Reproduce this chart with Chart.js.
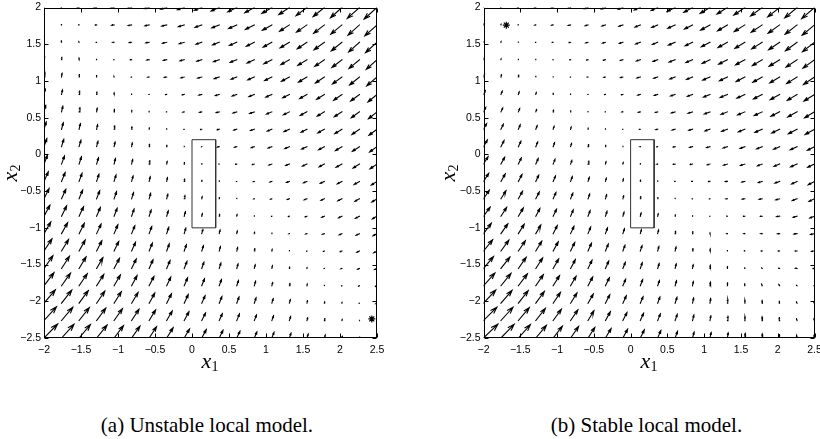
<!DOCTYPE html>
<html>
<head>
<meta charset="utf-8">
<script src="https://cdn.jsdelivr.net/npm/chart.js@4.4.1/dist/chart.umd.min.js"></script>
<style>
  body { margin: 0; width: 820px; height: 439px; overflow: hidden; background: #fff; position: relative; }
  .plot { position: absolute; top: 0; width: 410px; height: 380px; }
  .xlab, .ylab { position: absolute; width: 60px; height: 22px; text-align: center; color: #000;
                 font: italic 22px "Liberation Serif", serif; line-height: 22px; }
  .xlab sub, .ylab sub { font-style: normal; font-size: 14px; vertical-align: -3px; line-height: 0; }
  .ylab { transform: rotate(-90deg); }
  .cap { position: absolute; top: 415px; width: 320px; text-align: center; color: #000;
         font-family: "Liberation Serif", "Times New Roman", serif; font-size: 21px; line-height: 21px; }
</style>
</head>
<body>
<div class="plot" style="left:0"><canvas id="chartA"></canvas></div>
<div class="plot" style="left:440px"><canvas id="chartB"></canvas></div>
<div class="xlab" style="left:180px;top:350px">x<sub>1</sub></div>
<div class="xlab" style="left:619px;top:350px">x<sub>1</sub></div>
<div class="ylab" style="left:-20px;top:162px">x<sub>2</sub></div>
<div class="ylab" style="left:417.5px;top:162px">x<sub>2</sub></div>
<div class="cap" style="left:47px">(a) Unstable local model.</div>
<div class="cap" style="left:486.5px">(b) Stable local model.</div>
<script>
// arrow tails: columns left to right, rows top to bottom
const gridX = [-2, -1.763, -1.526, -1.289, -1.053, -0.816, -0.579, -0.342, -0.105, 0.132,
               0.368, 0.605, 0.842, 1.079, 1.316, 1.553, 1.789, 2.026, 2.263, 2.5];
const gridY = [2, 1.763, 1.526, 1.289, 1.053, 0.816, 0.579, 0.342, 0.105, -0.132,
               -0.368, -0.605, -0.842, -1.079, -1.316, -1.553, -1.789, -2.026, -2.263, -2.5];
const xTicks = [-2, -1.5, -1, -0.5, 0, 0.5, 1, 1.5, 2, 2.5];
const yTicks = [-2.5, -2, -1.5, -1, -0.5, 0, 0.5, 1, 1.5, 2];

// boxed region and equilibrium markers
const rectX = [0, 0.32, 0.32, 0, 0];
const rectY = [0.2, 0.2, -1, -1, 0.2];
const starA = [2.43, -2.24];
const starB = [-1.69, 1.76];

// (a) unstable local model: arrow length and direction (deg) per grid cell
const magA = [
  [0.5,0.5,1.4,2.3,3.3,4.2,5.1,6,7,7.9,8.8,9.8,10.7,11.6,12.6,13.5,14.4,15.3,16.3,17.2],
  [1.5,0.5,0.5,1.4,2.3,3.3,4.2,5.1,6,7,7.9,8.8,9.8,10.7,11.6,12.6,13.5,14.4,15.3,16.3],
  [2.5,1.5,0.5,0.5,1.4,2.3,3.3,4.2,5.1,6,7,7.9,8.8,9.8,10.7,11.6,12.6,13.5,14.4,15.3],
  [3.5,2.5,1.5,0.5,0.5,1.4,2.3,3.3,4.2,5.1,6,7,7.9,8.8,9.8,10.7,11.6,12.6,13.5,14.4],
  [5,3.5,2.5,1.5,0.5,0.5,1.4,2.3,3.3,4.2,5.1,6,7,7.9,8.8,9.8,10.7,11.6,12.6,13.5],
  [5.5,4.5,3.5,2.5,1.5,0.5,0.4,1.3,2.2,3,3.9,4.8,5.7,6.5,7.4,8.3,9.1,10,10.9,11.7],
  [6.5,5.5,4.5,3.5,2.5,1.5,0.5,0.4,1.3,2.2,3,3.9,4.8,5.7,6.5,7.4,8.3,9.1,10,10.9],
  [7.5,6.5,5.5,4.5,3.5,2.5,1.5,0.5,0.4,1.3,2.2,3,3.9,4.8,5.7,6.5,7.4,8.3,9.1,10],
  [8.5,7.5,6.5,5.5,4.5,3.5,2.5,1.5,0.5,0.4,1.8,2.2,3,3.9,4.8,5.7,6.5,7.4,8.3,9.1],
  [9.5,8.5,7.5,6.5,5.5,4.5,3.5,2.5,1.5,0.5,0.4,1.3,2.2,3,3.9,4.8,5.7,6.5,7.4,8.3],
  [10.5,9.5,8.5,7.5,6.5,5.5,4.5,3.5,2.5,1.2,0.5,0.4,1.2,2,2.8,3.6,4.4,5.2,6,6.8],
  [11.5,10.5,9.5,8.5,7.5,6.5,5.5,4.5,3.5,2,1.2,0.5,0.4,1.2,2,2.8,3.6,4.4,5.2,6],
  [12.5,11.5,10.5,9.5,8.5,7.5,6.5,5.5,4.5,2.5,2,1.5,0.5,0.4,1.2,2,2.8,3.6,4.4,5.2],
  [13.5,12.5,11.5,10.5,9.5,8.5,7.5,6.5,5.5,4.5,3.5,2.5,1.5,0.5,0.4,1.2,2,2.8,3.6,4.4],
  [14.5,13.5,12.5,11.5,10.5,9.5,8.5,7.5,6.5,5.5,4.5,3.5,2.5,1.5,0.5,0.4,1.2,2,2.8,3.6],
  [15.5,14.5,13.5,12.5,11.5,10.5,9.5,8.5,7.5,6.5,5.5,4.5,3.5,2.5,1.5,0.5,0.4,1.1,1.9,2.6],
  [16.5,15.5,14.5,13.5,12.5,11.5,10.5,9.5,8.5,7.5,6.5,5.5,4.5,3.5,2.5,1.5,0.5,0.4,1.1,1.9],
  [17.5,16.5,15.5,14.5,13.5,12.5,11.5,10.5,9.5,8,7,6.5,5.5,4.5,3.5,2.5,1.5,0.5,0.4,1.1],
  [18.5,17.5,16.5,15.5,14.5,13.5,12.5,11,10,8.5,7.5,7,6,5,4,3,2,1,0.3,0.3],
  [19.5,18.5,17.5,16.5,15.5,14.5,13.5,12,10.5,9.5,8.5,7.5,6.5,6,5,4,3,2,1,0.5]
];
const angA = [
  [90,180,183,185,188,191,193,196,198,201,204,206,209,211,214,217,219,222,222,222],
  [95,110,181,184,187,189,192,194,197,200,202,205,207,210,213,215,218,220,222,222],
  [84,95,110,183,185,188,190,193,196,198,201,203,206,209,211,214,216,219,222,222],
  [82,84,92,105,184,186,189,192,194,197,199,202,205,207,210,212,215,218,220,222],
  [80,82,83,90,100,185,188,190,193,195,198,201,203,206,208,211,214,216,219,221],
  [78,79,81,83,88,95,186,189,191,194,197,199,202,204,207,210,212,215,217,220],
  [75,77,79,81,82,84,90,187,190,193,195,198,200,203,206,208,211,213,216,219],
  [73,75,77,78,80,82,84,88,189,191,194,196,199,202,204,207,209,212,215,217],
  [71,73,74,76,78,80,81,83,85,190,192,195,198,200,203,205,208,211,213,216],
  [69,70,72,74,76,77,79,81,83,84,191,194,196,199,201,204,207,209,212,214],
  [66,68,70,72,73,75,77,79,80,82,83,192,195,197,200,203,205,208,210,213],
  [64,66,68,69,71,73,75,76,78,80,82,83,193,196,199,201,204,206,209,212],
  [62,64,65,67,69,71,72,74,76,78,79,81,82,195,197,200,202,205,208,210],
  [60,61,63,65,67,68,70,72,74,75,77,79,80,80,196,198,201,204,206,209],
  [57,59,61,63,64,66,68,70,71,73,75,77,78,80,80,197,200,202,205,207],
  [55,57,59,60,62,64,66,67,69,71,73,74,76,78,80,80,198,201,203,206],
  [53,55,56,58,60,62,63,65,67,69,70,72,74,76,77,79,80,199,202,205],
  [50,52,54,56,58,59,61,63,65,66,68,70,72,73,75,77,79,80,200,203],
  [48,50,52,54,55,57,59,60,62,64,66,68,69,71,73,75,76,78,80,200],
  [46,48,50,51,53,55,57,58,60,62,64,65,67,69,71,72,74,76,78,80]
];

// (b) stable local model
const magB = [
  [0.4,0.3,1,1.6,2.3,2.9,3.6,4.2,4.9,6.4,7.1,8.9,9.8,11.5,12.4,13.3,14.3,15.2,16.1,17],
  [1.1,0.4,0.3,1,1.6,2.3,2.9,3.6,4.2,5.6,6.4,8.1,8.9,10.6,11.5,12.4,13.3,14.3,15.2,16.1],
  [0.6,0.5,0.3,0.3,1,1.6,2.3,2.9,3.6,4.9,5.6,7.2,8.1,9.7,10.6,11.5,12.4,13.3,14.3,15.2],
  [1.5,0.7,0.5,0.3,0.3,1,1.6,2.3,2.9,4.1,4.9,6.4,7.2,8.7,9.7,10.6,11.5,12.4,13.3,14.3],
  [3,2.5,2,0.7,0.3,0.3,1,1.6,2.3,3.4,4.1,5.5,6.4,7.8,8.7,9.7,10.6,11.5,12.4,13.3],
  [4.1,3.4,2.6,1.9,1.1,0.4,0.3,1,1.6,2.6,3.4,4.7,5.5,6.9,7.8,8.7,9.7,10.6,11.5,12.4],
  [4.9,4.1,3.4,2.6,1.9,1.1,0.4,0.3,1,1.9,2.6,3.8,4.7,6,6.9,7.8,8.7,9.7,10.6,11.5],
  [6.4,5.5,4.7,3.8,3,2.1,1.3,0.4,0.3,1.1,1.9,3,3.8,5.1,6,6.9,7.8,8.7,9.7,10.6],
  [7.7,6.8,5.9,5,4.1,3.2,2.3,1.4,0.5,0.4,1.1,2.1,3,3.5,4.5,5,6,6.5,7.5,8],
  [8.6,7.7,6.8,5.9,5,4.1,3.2,2.3,1.4,0.5,0.8,2,2.5,3,4,4.5,5,6,7,7.5],
  [9.5,8.6,7.7,6.8,5.9,5,4.1,3.2,2.3,1.4,0.5,0.5,1,1.5,2,3,4,5,6,7],
  [10.4,9.5,8.6,7.7,6.8,5.9,5,4.1,3.2,2.3,1.4,0.5,0.4,0.8,1.5,2.5,3,4,5,6],
  [11.3,10.4,9.5,8.6,7.7,6.8,5.9,5,4.1,3.2,2.3,1.4,0.5,0.4,0.8,1.5,2,3,4,5],
  [13,12,11,10,9,8,7,6,5,4,3.5,2.5,2,0.5,0.5,1,1.5,2,3,4],
  [14.5,13.5,12.5,11.5,10.5,9.5,8.5,7.5,6,5.5,4.5,4,2.5,2,0.5,0.8,1,1.5,2,3],
  [15.5,14.5,13.5,12.5,11,10,9,8,6.5,6,5,4.5,3.5,3,2,0.7,0.8,1,1.5,1.5],
  [17,16,15,13.5,12,11,10,9,7,6.5,5.5,5,4,3.5,3,2,1.5,1.2,0.8,0.5],
  [18,17,16,14.5,13,12,10.5,9.5,8,7,6.5,6,5,4.5,4,3,2.5,2,1.5,1],
  [19,18,17,15.5,14,13,11.5,10,9,8,7,6.5,5.5,5,4.5,4,3.5,3,2,1.5],
  [20,19,18,16.5,15,14,12.5,11,10,9,8,7,6,5.5,5,4.5,4,3.5,2.5,2]
];
const angB = [
  [85,189,191,193,194,196,198,200,202,203,205,207,209,211,212,214,216,218,220,221],
  [80,80,189,191,193,194,196,198,200,202,203,205,207,209,211,212,214,216,218,220],
  [75,80,90,189,191,193,194,196,198,200,202,203,205,207,209,211,212,214,216,218],
  [75,80,85,90,189,191,193,194,196,198,200,202,203,205,207,209,211,212,214,216],
  [70,78,80,85,90,185,188,192,194,196,198,200,202,203,205,207,209,211,212,214],
  [64,67,72,78,82,88,185,188,192,194,196,198,200,202,203,205,207,209,211,212],
  [63,65,68,72,78,82,85,185,188,192,194,196,198,200,202,203,205,207,209,211],
  [61,64,67,69,72,74,80,85,185,189,192,194,196,198,200,202,203,205,207,209],
  [60,63,65,68,70,73,75,78,80,189,191,193,194,196,198,200,202,203,205,207],
  [58,61,64,66,69,71,74,76,79,82,189,190,192,194,196,198,200,202,203,205],
  [57,60,62,65,67,70,72,75,78,80,82,180,180,183,186,192,197,200,205,208],
  [56,58,61,63,66,68,71,74,76,78,80,82,180,180,183,186,190,195,200,205],
  [54,57,59,62,64,67,69,72,74,76,78,80,85,180,180,182,185,188,195,200],
  [53,55,58,60,63,65,68,70,72,74,76,79,82,85,180,180,182,185,188,192],
  [51,54,56,59,61,64,66,68,70,72,75,77,80,84,90,130,175,178,180,185],
  [50,52,55,57,60,62,64,66,68,71,73,76,80,84,88,100,130,165,175,180],
  [48,51,53,56,58,60,62,64,67,69,71,74,80,84,88,95,110,125,140,160],
  [47,49,52,54,56,58,60,63,65,67,70,72,78,82,85,88,92,100,115,130],
  [45,48,50,52,54,56,59,61,63,66,68,71,76,80,83,88,92,97,105,115],
  [44,46,48,50,52,55,57,59,62,64,67,70,75,78,82,86,90,94,100,108]
];

// quiver drawing constants
const arrowScale = 1 / 73.6;  // data units per unit of arrow length
const headA = 0.33;
const headB = 0.33;

// tail->head shaft plus two barbs, with null points breaking the polyline
function quiverPoints(mag, ang) {
    const pts = [];
    mag.forEach((row, r) => {
        row.forEach((m, c) => {
            const x = gridX[c], y = gridY[r];
            const t = ang[r][c] * Math.PI / 180;
            const u = m * arrowScale * Math.cos(t);
            const v = m * arrowScale * Math.sin(t);
            const hx = x + u, hy = y + v;
            pts.push({x: x, y: y}, {x: hx, y: hy}, {x: hx, y: null});
            pts.push({x: hx - headA * (u + headB * v), y: hy - headA * (v - headB * u)});
            pts.push({x: hx, y: hy});
            pts.push({x: hx - headA * (u - headB * v), y: hy - headA * (v + headB * u)});
            pts.push({x: hx, y: null});
        });
    });
    return pts;
}

function fmtTick(v) {
    return (v < 0 ? '\u2212' : '') + Math.abs(v);
}

// box around the axes with inward tick marks on all four sides
const frameTicks = {
    id: 'frameTicks',
    afterDatasetsDraw(chart) {
        const {ctx, chartArea: a, scales} = chart;
        const L = Math.round(a.left) + 0.5, R = Math.round(a.right) - 0.5;
        const T = Math.round(a.top) + 0.5, B = Math.round(a.bottom) - 0.5;
        ctx.save();
        ctx.strokeStyle = '#000';
        ctx.lineWidth = 1;
        ctx.strokeRect(L, T, R - L, B - T);
        ctx.beginPath();
        xTicks.forEach(v => {
            const p = Math.round(scales.x.getPixelForValue(v)) + 0.5;
            ctx.moveTo(p, B); ctx.lineTo(p, B - 4);
            ctx.moveTo(p, T); ctx.lineTo(p, T + 4);
        });
        yTicks.forEach(v => {
            const p = Math.round(scales.y.getPixelForValue(v)) + 0.5;
            ctx.moveTo(L, p); ctx.lineTo(L + 4, p);
            ctx.moveTo(R, p); ctx.lineTo(R - 4, p);
        });
        ctx.stroke();
        ctx.restore();
    }
};

function makeQuiver(canvasId, mag, ang, star, axisWidth, padRight) {
    const tickFont = {family: '"Liberation Sans", Arial, sans-serif', size: 10.5};
    return new Chart(document.getElementById(canvasId), {
        type: 'scatter',
        data: {
            datasets: [
                {
                    data: quiverPoints(mag, ang),
                    showLine: true,
                    borderColor: '#000',
                    borderWidth: 1.1,
                    borderCapStyle: 'square',
                    pointRadius: 0,
                    spanGaps: false
                },
                {
                    data: rectX.map((x, k) => ({x: x, y: rectY[k]})),
                    showLine: true,
                    borderColor: '#333',
                    borderWidth: 1,
                    pointRadius: 0
                },
                {
                    data: [{x: star[0], y: star[1]}],
                    pointStyle: 'star',
                    pointRadius: 3.5,
                    borderColor: '#000',
                    borderWidth: 1.2
                }
            ]
        },
        options: {
            responsive: true,
            maintainAspectRatio: false,
            animation: false,
            events: [],
            layout: {padding: {left: 0, top: 7.5, right: padRight, bottom: 12}},
            plugins: {legend: {display: false}, tooltip: {enabled: false}},
            scales: {
                x: {
                    type: 'linear', min: -2, max: 2.5,
                    grid: {display: false, drawTicks: false},
                    border: {display: false},
                    ticks: {stepSize: 0.5, padding: 6, color: '#000', font: tickFont,
                            maxRotation: 0, autoSkip: false, callback: fmtTick},
                    afterFit(s) { s.height = 30; s.paddingLeft = 0; s.paddingRight = 0; }
                },
                y: {
                    type: 'linear', min: -2.5, max: 2,
                    grid: {display: false, drawTicks: false},
                    border: {display: false},
                    ticks: {stepSize: 0.5, padding: 3, color: '#000', font: tickFont,
                            autoSkip: false, callback: fmtTick},
                    afterFit(s) { s.width = axisWidth; s.paddingTop = 0; s.paddingBottom = 0; }
                }
            }
        },
        plugins: [frameTicks]
    });
}

makeQuiver('chartA', magA, angA, starA, 44, 33);
makeQuiver('chartB', magB, angB, starB, 43.5, 35.5);
</script>
</body>
</html>
